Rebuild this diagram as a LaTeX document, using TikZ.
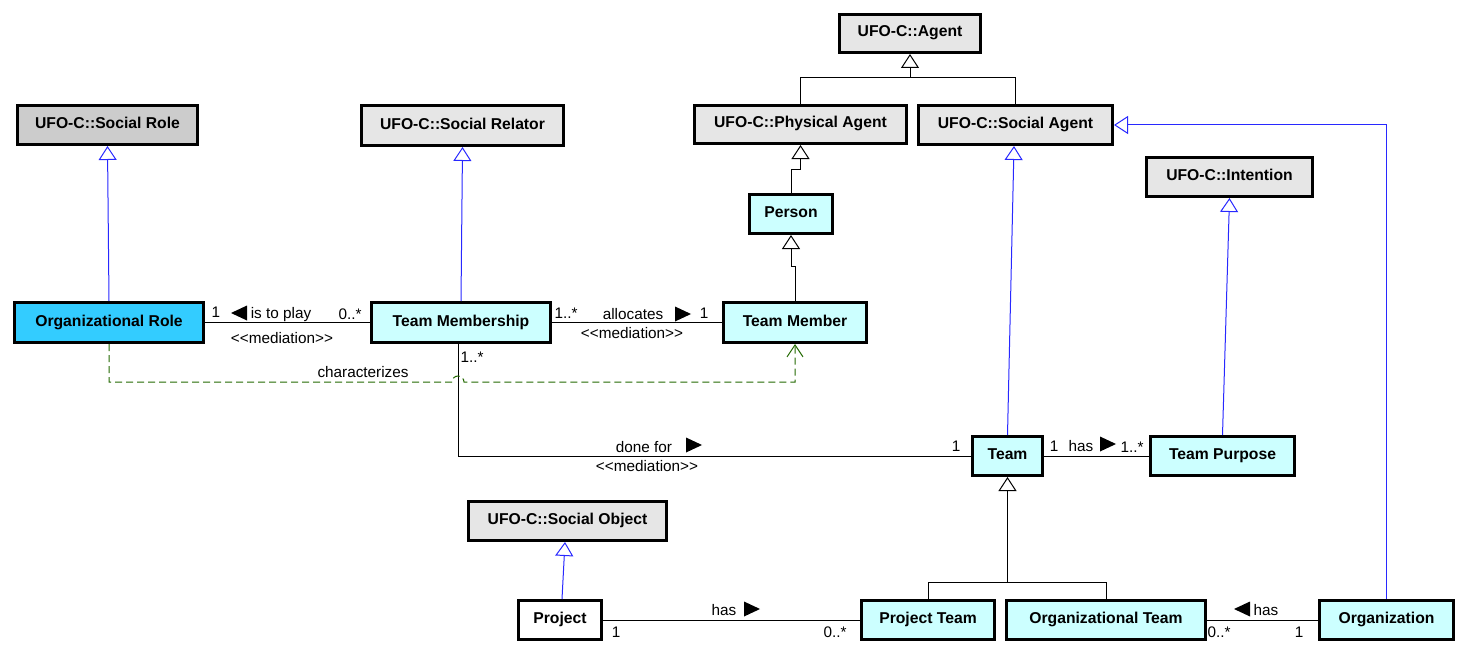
\documentclass[tikz,border=0pt]{standalone}
\usepackage{fontspec}
\setmainfont{Liberation Sans}
\usetikzlibrary{arrows.meta,calc}
\definecolor{ufogray}{HTML}{E6E6E6}
\definecolor{rolegray}{HTML}{CCCCCC}
\definecolor{lcyan}{HTML}{CCFFFF}
\definecolor{rolecyan}{HTML}{33CCFF}
\definecolor{ublue}{RGB}{40,40,255}
\definecolor{depgreen}{RGB}{35,105,0}
\newcommand{\medlab}{{<}{<}mediation{>}{>}}
\begin{document}
\begin{tikzpicture}[x=1pt,y=-1pt,
  box/.style={draw,line width=3pt,font=\fontsize{15.7}{18}\selectfont\bfseries,text height=11pt,text depth=4pt,inner sep=0pt},
  lab/.style={font=\fontsize{15.3}{18}\selectfont,inner sep=0pt,text height=10.5pt,text depth=0pt},
  assoc/.style={line width=1pt},
  gen/.style={line width=1pt,-{Triangle[length=14pt,width=18pt,fill=white]}},
  bgen/.style={gen,draw=ublue},
  dep/.style={draw=depgreen,line width=1pt,dash pattern=on 7pt off 4pt,-{Straight Barb[length=12pt,width=16pt]}},
  rtri/.pic={\fill (-8,-7.5) -- (8,0) -- (-8,7.5) -- cycle;},
  ltri/.pic={\fill (8,-7.5) -- (-8,0) -- (8,7.5) -- cycle;}]
\useasboundingbox[fill=white] (0,0) rectangle (1466,666);

% boxes
\node[box,fill=ufogray,minimum width=141,minimum height=38] (agent) at (910,33.5) {UFO-C::Agent};
\node[box,fill=ufogray,minimum width=212,minimum height=38] (physagent) at (800.5,124.5) {UFO-C::Physical Agent};
\node[box,fill=ufogray,minimum width=194,minimum height=39] (socagent) at (1015.5,125) {UFO-C::Social Agent};
\node[box,fill=rolegray,minimum width=180,minimum height=39] (socrole) at (107.5,125) {UFO-C::Social Role};
\node[box,fill=ufogray,minimum width=202,minimum height=40] (socrelator) at (462.5,125.5) {UFO-C::Social Relator};
\node[box,fill=ufogray,minimum width=166,minimum height=39] (intention) at (1229.5,177) {UFO-C::Intention};
\node[box,fill=lcyan,minimum width=83,minimum height=39] (person) at (791,214) {Person};
\node[box,fill=rolecyan,minimum width=189,minimum height=40] (orgrole) at (109,322.5) {Organizational Role};
\node[box,fill=lcyan,minimum width=179,minimum height=40] (teammembership) at (461,322.5) {Team Membership};
\node[box,fill=lcyan,minimum width=143,minimum height=40] (teammember) at (795,322.5) {Team Member};
\node[box,fill=lcyan,minimum width=70,minimum height=39] (team) at (1007.5,456) {Team};
\node[box,fill=lcyan,minimum width=144,minimum height=39] (teampurpose) at (1222.5,456) {Team Purpose};
\node[box,fill=ufogray,minimum width=198,minimum height=39] (socobject) at (567.5,521) {UFO-C::Social Object};
\node[box,fill=white,minimum width=83,minimum height=39] (project) at (560,620) {Project};
\node[box,fill=lcyan,minimum width=133,minimum height=39] (projteam) at (928,620) {Project Team};
\node[box,fill=lcyan,minimum width=199,minimum height=39] (orgteam) at (1106,620) {Organizational Team};
\node[box,fill=lcyan,minimum width=134,minimum height=39] (organization) at (1386.5,620) {Organization};

% generalizations (blue)
\draw[bgen] (orgrole.north) -- (socrole.south);
\draw[bgen] (teammembership.north) -- (socrelator.south);
\draw[bgen] (team.north) -- ([xshift=-1.5]socagent.south);
\draw[bgen] (teampurpose.north) -- (intention.south);
\draw[bgen] ([xshift=2]project.north) -- ([xshift=-2.5]socobject.south);
\draw[bgen] (organization.north) |- (socagent.east);

% generalizations (black)
\draw[assoc] (physagent.north) -- ++(0,-26) coordinate (agj) -| (socagent.north);
\draw[gen] (agent.south |- agj) -- (agent.south);
\draw[gen] (person.north) -- ++(0,-24) -| (physagent.south);
\draw[gen] (teammember.north) -- ++(0,-35) -| (person.south);
\draw[assoc] (projteam.north) -- ++(0,-17) coordinate (tj) -| (orgteam.north);
\draw[gen] (team.south |- tj) -- (team.south);

% associations
\draw[assoc] (orgrole.east) -- (teammembership.west);
\draw[assoc] (teammembership.east) -- (teammember.west);
\draw[assoc] ([xshift=-3]teammembership.south) |- (team.west);
\draw[assoc] (team.east) -- (teampurpose.west);
\draw[assoc] (project.east) -- (projteam.west);
\draw[assoc] (orgteam.east) -- (organization.west);

% characterizes dependency
\coordinate (hop) at (452,382);
\draw[dep] (orgrole.south) |- (hop) arc[start angle=180,end angle=360,radius=6] -| (teammember.south);

% labels
\node[lab] (l1) at (216,312) {1};
\pic at (239,313) {ltri};
\node[lab] (l2) at (281,313) {is to play};
\node[lab] (l3) at (350,314) {0..*};
\node[lab] (l4) at (282,338) {\medlab};

\node[lab] (l5) at (566,313) {1..*};
\node[lab] (l6) at (633,314) {allocates};
\pic at (683,314) {rtri};
\node[lab] (l7) at (704,313) {1};
\node[lab] (l8) at (632,333) {\medlab};

\node[lab] (l9) at (363,372) {characterizes};
\node[lab] (l10) at (472,357) {1..*};

\node[lab] (l11) at (644,447) {done for};
\pic at (694,445) {rtri};
\node[lab] (l12) at (647,466) {\medlab};
\node[lab] (l13) at (956,446) {1};

\node[lab] (l14) at (1054,446) {1};
\node[lab] (l15) at (1081,446) {has};
\pic at (1108,444) {rtri};
\node[lab] (l16) at (1132,447) {1..*};

\node[lab] (l17) at (724,610) {has};
\pic at (752,609) {rtri};
\node[lab] (l18) at (616,632) {1};
\node[lab] (l19) at (835,632) {0..*};

\pic at (1242,609) {ltri};
\node[lab] (l20) at (1266,610) {has};
\node[lab] (l21) at (1219,632) {0..*};
\node[lab] (l22) at (1299,632) {1};
\end{tikzpicture}
\end{document}
